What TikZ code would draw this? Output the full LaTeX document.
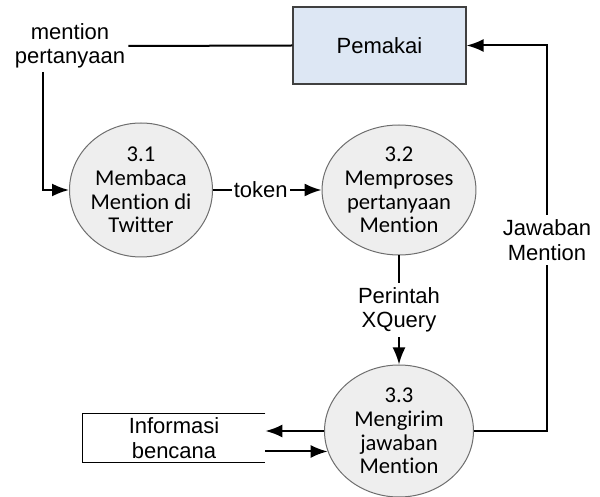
\documentclass[tikz,border=0pt]{standalone}
\usepackage{fontspec}
\setmainfont{Liberation Sans}
\newfontfamily\procfont[Ligatures=NoCommon]{Carlito}
\usetikzlibrary{shapes.geometric,arrows.meta}
\definecolor{entityfill}{HTML}{DDE7F4}
\definecolor{procfill}{HTML}{EEEEEE}
\definecolor{procline}{HTML}{6E6E6E}
\begin{document}
\begin{tikzpicture}[x=0.5pt,y=-0.5pt,
  flow/.style={line width=1pt,draw=black},
  arr/.style={flow,-{Latex[length=8.5pt,width=6.5pt]}},
  lbl/.style={font=\fontsize{11}{12.2}\selectfont,align=center,inner sep=1.5pt},
  proc/.style={ellipse,draw=procline,line width=0.5pt,fill=procfill,
    font=\procfont\fontsize{11.3}{11.8}\selectfont,align=center,inner sep=0pt},
  entity/.style={draw=black!75,line width=0.6pt,fill=entityfill,
    font=\fontsize{11}{12.2}\selectfont,minimum width=86.5pt,minimum height=38.5pt}]
\useasboundingbox (0,0) rectangle (600,497);

% external entity and data store
\node[entity] (pem) at (379.5,45.5) {Pemakai};
\node[lbl,minimum width=91pt,minimum height=24pt] (info) at (174,438) {Informasi\\bencana};
\draw[line width=0.6pt] (info.north east) -- (info.north west) -- (info.south west) -- (info.south east);

% processes
\node[proc,minimum width=71.5pt,minimum height=67pt] (c31) at (141,190) {3.1\\Membaca\\Mention di\\Twitter};
\node[proc,minimum width=74pt,minimum height=65pt] (c32) at (399,190) {3.2\\Memproses\\pertanyaan\\Mention};
\node[proc,minimum width=74.5pt,minimum height=66pt] (c33) at (399,431) {3.3\\Mengirim\\jawaban\\Mention};

% flow labels
\node[lbl] (mp) at (70,46) {mention\\pertanyaan};

% flows
\coordinate (k1) at (43,190);
\draw[flow] (pem.west) -- (mp.east);
\draw[arr] (k1 |- mp.south) -- (k1) -- (c31.west);
\draw[arr] (c31.east) -- node[lbl,fill=white,pos=0.44,inner sep=1pt] (tok) {token} (c32.west);
\draw[arr] (c32.south) -- node[lbl,fill=white,inner sep=2.5pt] (xq) {Perintah\\XQuery} (c33.north);
\coordinate (k2) at (547,431);
\draw[arr] (c33.east) -- (k2) -- node[lbl,fill=white,pos=0.495,inner sep=2.5pt] (jm) {Jawaban\\Mention} (k2 |- pem.east) -- (pem.east);
\draw[arr] (c33.west) -- (info.east |- c33.west);
\draw[arr] (info.east |- c33.196.5) -- (c33.196.5);
\end{tikzpicture}
\end{document}
